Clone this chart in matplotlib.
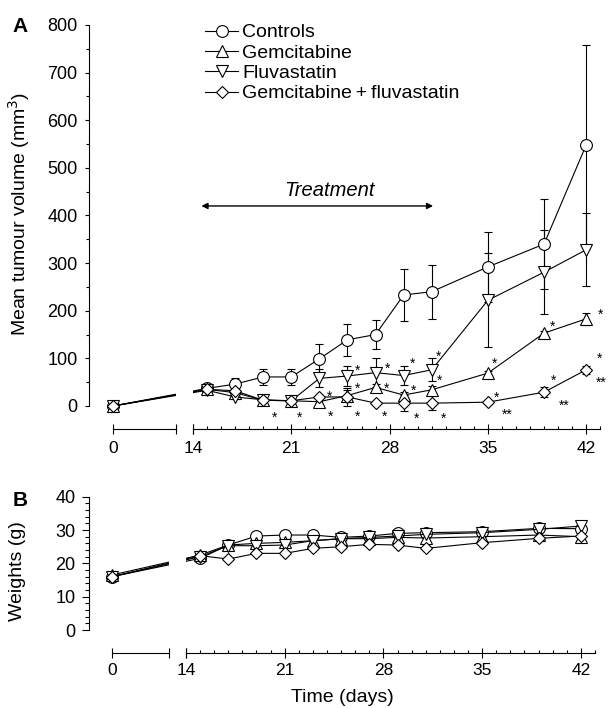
import numpy as np
import matplotlib
matplotlib.use("Agg")
import matplotlib.pyplot as plt

plt.rcParams['font.family'] = ['Liberation Sans', 'DejaVu Sans']

# Days of measurement (day 0, then from day 15 on)
days = [0, 15, 17, 19, 21, 23, 25, 27, 29, 31, 35, 39, 42]

# A: mean tumour volume (mm3) and error bars
vol_controls = [0, 37, 46, 61, 61, 99, 139, 150, 233, 240, 292, 340, 548]
err_controls = [0, 5, 13, 17, 17, 31, 33, 30, 55, 57, 73, 95, 210]
vol_gem = [0, 35, 28, 12, 11, 9, 22, 39, 23, 34, 69, 153, 183]
err_gem = [0, 4, 5, 4, 4, 5, 12, 8, 6, 8, 5, 5, 12]
vol_fluv = [0, 33, 19, 13, 11, 58, 63, 70, 64, 76, 222, 281, 328]
err_fluv = [0, 4, 5, 4, 4, 19, 21, 30, 20, 24, 99, 88, 77]
vol_combo = [0, 35, 32, 12, 11, 19, 19, 6, 6, 6, 8, 29, 76]
err_combo = [0, 4, 5, 3, 3, 5, 18, 4, 17, 14, 3, 10, 8]

# B: body weights (g)
w_controls = [16, 21.5, 25.5, 28.2, 28.5, 28.5, 27.8, 28.2, 29, 29.2, 29.5, 30.5, 30.4]
w_gem = [16.5, 22.5, 25.5, 26, 26.3, 26.8, 27.4, 27.4, 27.8, 27.6, 28, 28.5, 28]
w_fluv = [16, 22, 25.3, 25.3, 25.5, 26.8, 27.4, 27.8, 28.2, 28.7, 29.2, 30.2, 31.2]
w_combo = [16, 22.3, 21.3, 23, 23, 24.5, 25, 25.7, 25.5, 24.5, 26.2, 27.5, 28.2]

labels = ['Controls', 'Gemcitabine', 'Fluvastatin', 'Gemcitabine\u2009+\u2009fluvastatin']
markers = ['o', '^', 'v', 'D']
msizes = [8.5, 8.5, 8.5, 6.2]

# significance marks (day, volume, text)
star_days = [19.8, 21.55, 23.75, 23.8, 25.75, 25.7, 25.75, 27.85, 27.8, 27.65,
             29.6, 29.7, 29.95, 31.45, 31.55, 31.85, 35.5, 35.65, 36.35,
             39.6, 39.65, 40.45, 43.05, 42.95, 43.1]
star_vals = [-15, -15, 28, -14, 82, 45, -14, 87, 45, -14,
             98, 40, -17, 112, 61, -17, 98, 27, -10,
             175, 63, 9, 200, 108, 58]
star_text = ['*'] * 18 + ['**', '*', '*', '**', '*', '*', '**']

LW = 0.8


def broken_scale(k):
    # days < 14 are squeezed into the short left piece of the axis
    def fwd(d):
        d = np.asarray(d, dtype=float)
        return np.where(d >= 14, d, 14 - (14 - d) * k)

    def inv(p):
        p = np.asarray(p, dtype=float)
        return np.where(p >= 14, p, 14 - (14 - p) / k)
    return fwd, inv


def setup_xaxis(ax, k, xmin, seg_end, pad):
    ax.set_xscale('function', functions=broken_scale(k))
    ax.set_xlim(xmin, 43)
    ax.spines['top'].set_visible(False)
    ax.spines['right'].set_visible(False)
    ax.spines['bottom'].set_bounds(14, 43)
    for s in ax.spines.values():
        s.set_linewidth(LW)
    tr = ax.get_xaxis_transform()
    ax.plot([0, seg_end], [0, 0], transform=tr, color='k', lw=LW, clip_on=False)
    ax.plot([seg_end, 14], [0, 0], transform=tr, color='k', ls='none', marker='|',
            ms=6.5, mew=LW, clip_on=False, zorder=6)
    # white gap so the data line is broken like the axis
    ax.axvspan(seg_end, 14, color='white', zorder=5, lw=0)
    ax.set_xticks([0, 14, 21, 28, 35, 42])
    ax.set_xticks(list(range(15, 44)), minor=True)
    ax.tick_params(axis='x', which='major', direction='inout', length=6.5,
                   width=LW, labelsize=12.5, pad=pad)
    ax.tick_params(axis='x', which='minor', direction='in', length=2.2, width=LW)


fig = plt.figure(figsize=(6.09, 7.08), dpi=100)

# ---- panel A ----
axA = fig.add_axes([0.14614, 0.39407, 0.83941, 0.57062])
setup_xaxis(axA, 0.407, -4.2, 11.11, 5.5)
axA.set_ylim(-48.3, 800)
axA.spines['left'].set_bounds(0, 800)
axA.set_yticks(range(0, 801, 100))
axA.set_yticks(range(50, 800, 100), minor=True)
axA.tick_params(axis='y', which='major', direction='out', length=3.2, width=LW,
                labelsize=13, pad=5)
axA.tick_params(axis='y', which='minor', direction='out', length=2.4, width=LW)

series_A = [(vol_controls, err_controls), (vol_gem, err_gem),
            (vol_fluv, err_fluv), (vol_combo, err_combo)]
handles = []
for (v, e), m, ms, lab in zip(series_A, markers, msizes, labels):
    c = axA.errorbar(days, v, yerr=e, marker=m, ms=ms, mfc='white', mec='k', mew=LW,
                     color='k', lw=LW, elinewidth=LW, capsize=3, capthick=1.2,
                     label=lab, zorder=3)
    handles.append(c[0])

for d, v, t in zip(star_days, star_vals, star_text):
    axA.annotate(t, (d, v), xytext=(0, -6), textcoords='offset points',
                 ha='center', va='baseline', fontsize=10, annotation_clip=False)

axA.annotate('', xy=(31.1, 420), xytext=(14.6, 420),
             arrowprops=dict(arrowstyle='<|-|>', color='k', lw=1,
                             shrinkA=0, shrinkB=0, mutation_scale=9))
axA.text(23.75, 453, 'Treatment', style='italic', fontsize=14.5,
         ha='center', va='center')

axA.set_ylabel('Mean tumour volume (mm$^3$)', fontsize=14)
axA.yaxis.set_label_coords(-0.112, 0.532)

fig.legend(handles=handles, labels=labels, loc='upper left',
           bbox_to_anchor=(0.3366, 0.9665), bbox_transform=fig.transFigure,
           frameon=False, fontsize=14, handlelength=1.7, handletextpad=0.2,
           labelspacing=0.14, borderpad=0, borderaxespad=0)

# ---- panel B ----
axB = fig.add_axes([0.14614, 0.07811, 0.83071, 0.22034])
setup_xaxis(axB, 0.3749, -4.35, 10.84, 4.5)
axB.set_ylim(-6.8, 40)
axB.spines['left'].set_bounds(0, 40)
axB.set_yticks(range(0, 41, 10))
axB.set_yticks(range(0, 41, 2), minor=True)
axB.tick_params(axis='y', which='major', direction='out', length=4.8, width=LW,
                labelsize=13, pad=5)
axB.tick_params(axis='y', which='minor', direction='out', length=2.9, width=LW)

for w, m, ms in zip([w_controls, w_gem, w_fluv, w_combo], markers, msizes):
    axB.plot(days, w, marker=m, ms=ms, mfc='white', mec='k', mew=LW,
             color='k', lw=LW, zorder=3)

axB.set_ylabel('Weights (g)', fontsize=14)
axB.yaxis.set_label_coords(-0.1245, 0.524)
axB.set_xlabel('Time (days)', fontsize=14)
axB.xaxis.set_label_coords(0.5, -0.233)

fig.text(20 / 609, 1 - 27 / 708, 'A', fontsize=15, fontweight='bold',
         ha='center', va='center')
fig.text(20 / 609, 1 - 500 / 708, 'B', fontsize=15, fontweight='bold',
         ha='center', va='center')

fig.savefig('out.png', dpi=100)
